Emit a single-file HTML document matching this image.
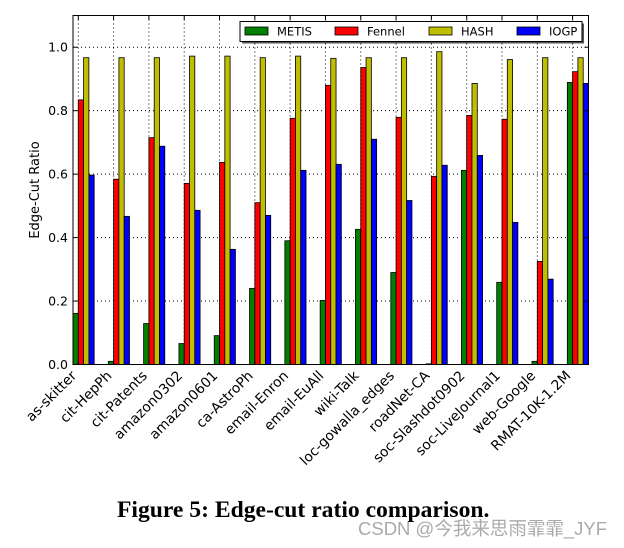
<!DOCTYPE html>
<html><head><meta charset="utf-8"><style>
html,body{margin:0;padding:0;background:#fff;}
#wrap{position:relative;width:624px;height:548px;overflow:hidden;}
.caption{position:absolute;left:117px;top:497px;font:bold 23.6px "Liberation Serif",serif;color:#000;white-space:nowrap;}
.wm{position:absolute;left:358px;top:515px;font:18.5px "Liberation Sans","Noto Sans CJK SC",sans-serif;color:#aaa;white-space:nowrap;}
</style></head><body>
<div id="wrap">
<svg id="chart" width="624" height="500" style="position:absolute;left:0;top:0"></svg>
<div class="caption">Figure 5: Edge-cut ratio comparison.</div>
<div class="wm">CSDN @今我来思雨霏霏_JYF</div>
</div>
<script>
const categories=["as-skitter","cit-HepPh","cit-Patents","amazon0302","amazon0601","ca-AstroPh","email-Enron","email-EuAll","wiki-Talk","loc-gowalla_edges","roadNet-CA","soc-Slashdot0902","soc-LiveJournal1","web-Google","RMAT-10K-1.2M"];
const metis=[0.161,0.010,0.129,0.066,0.091,0.240,0.390,0.202,0.426,0.290,0.002,0.612,0.259,0.010,0.889];
const fennel=[0.834,0.584,0.715,0.571,0.637,0.510,0.776,0.880,0.936,0.779,0.593,0.785,0.773,0.325,0.923];
const hash=[0.967,0.967,0.967,0.972,0.972,0.967,0.972,0.965,0.967,0.967,0.986,0.886,0.961,0.967,0.967];
const iogp=[0.597,0.467,0.688,0.486,0.363,0.470,0.612,0.631,0.710,0.517,0.628,0.659,0.448,0.269,0.886];
const seriesNames=["METIS","Fennel","HASH","IOGP"];
const seriesColors=["#007f00","#ff0000","#bfbf00","#0000ff"];
const yTicks=[0.0,0.2,0.4,0.6,0.8,1.0];

const NS="http://www.w3.org/2000/svg";
const svg=document.getElementById('chart');
const L=73,R=588.5,T=15.5,B=364.5;
const yMax=1.1, xMax=14.6, bw=0.15;
function X(v){return L+v*(R-L)/xMax;}
function Y(v){return B-v*(B-T)/yMax;}
function mk(tag,attrs){const e=document.createElementNS(NS,tag);for(const k in attrs)e.setAttribute(k,attrs[k]);svg.appendChild(e);return e;}
yTicks.forEach((t,i)=>{
  const g=mk('line',{x1:L,x2:R,y1:Y(t),y2:Y(t),stroke:'#000','stroke-width':1,'stroke-dasharray':'1,3'});
  
  
  const tk=mk('text',{x:L-5,y:Y(t)+4.5,'text-anchor':'end','font-family':'DejaVu Sans, Liberation Sans, sans-serif','font-size':12.5});
  tk.textContent=t.toFixed(1);
  
  
});
categories.forEach((c,i)=>{
  const tx=X(i+bw);
  const g=mk('line',{x1:tx,x2:tx,y1:T,y2:B,stroke:'#000','stroke-width':1,'stroke-dasharray':'1,3'});
  
  
});
[metis,fennel,hash,iogp].forEach((arr,s)=>{
  arr.forEach((v,i)=>{
    const x0=X(i+s*bw), x1=X(i+(s+1)*bw);
    const r=mk('rect',{x:x0,y:Y(v),width:x1-x0,height:Y(0)-Y(v),fill:seriesColors[s],stroke:'#000','stroke-width':0.8});
    
    
  });
});
categories.forEach((c,i)=>{
  const tx=X(i+bw);
  mk('line',{x1:tx,x2:tx,y1:B,y2:B-4,stroke:'#000'});
  mk('line',{x1:tx,x2:tx,y1:T,y2:T+4,stroke:'#000'});
  const ax=tx-1, ay=B+12;
  const t=mk('text',{x:ax,y:ay,'text-anchor':'end','font-family':'DejaVu Sans, Liberation Sans, sans-serif','font-size':13.8,transform:`rotate(-45 ${ax} ${ay})`});
  t.textContent=c;
  
  
});
yTicks.forEach(t=>{mk('line',{x1:L,x2:L+4,y1:Y(t),y2:Y(t),stroke:'#000'});mk('line',{x1:R,x2:R-4,y1:Y(t),y2:Y(t),stroke:'#000'});});
const fr=mk('rect',{x:L,y:T,width:R-L,height:B-T,fill:'none',stroke:'#000','stroke-width':1});


const yt=mk('text',{x:39,y:(T+B)/2,'text-anchor':'middle','font-family':'DejaVu Sans, Liberation Sans, sans-serif','font-size':13,transform:`rotate(-90 39 ${(T+B)/2})`});
yt.textContent='Edge-Cut Ratio';


mk('rect',{x:242,y:23.5,width:342,height:20,fill:'#555'});
const lg=mk('rect',{x:240,y:21.5,width:342,height:20,fill:'#fff',stroke:'#000','stroke-width':1});


const lx=[245,335,429,517];
seriesNames.forEach((n,s)=>{
  const sw=mk('rect',{x:lx[s],y:27,width:23,height:8,fill:seriesColors[s],stroke:'#000','stroke-width':0.8});
  
  
  const t=mk('text',{x:lx[s]+32,y:35.5,'font-family':'DejaVu Sans, Liberation Sans, sans-serif','font-size':11.5});
  t.textContent=n;
  
  
});
</script>
</body></html>
